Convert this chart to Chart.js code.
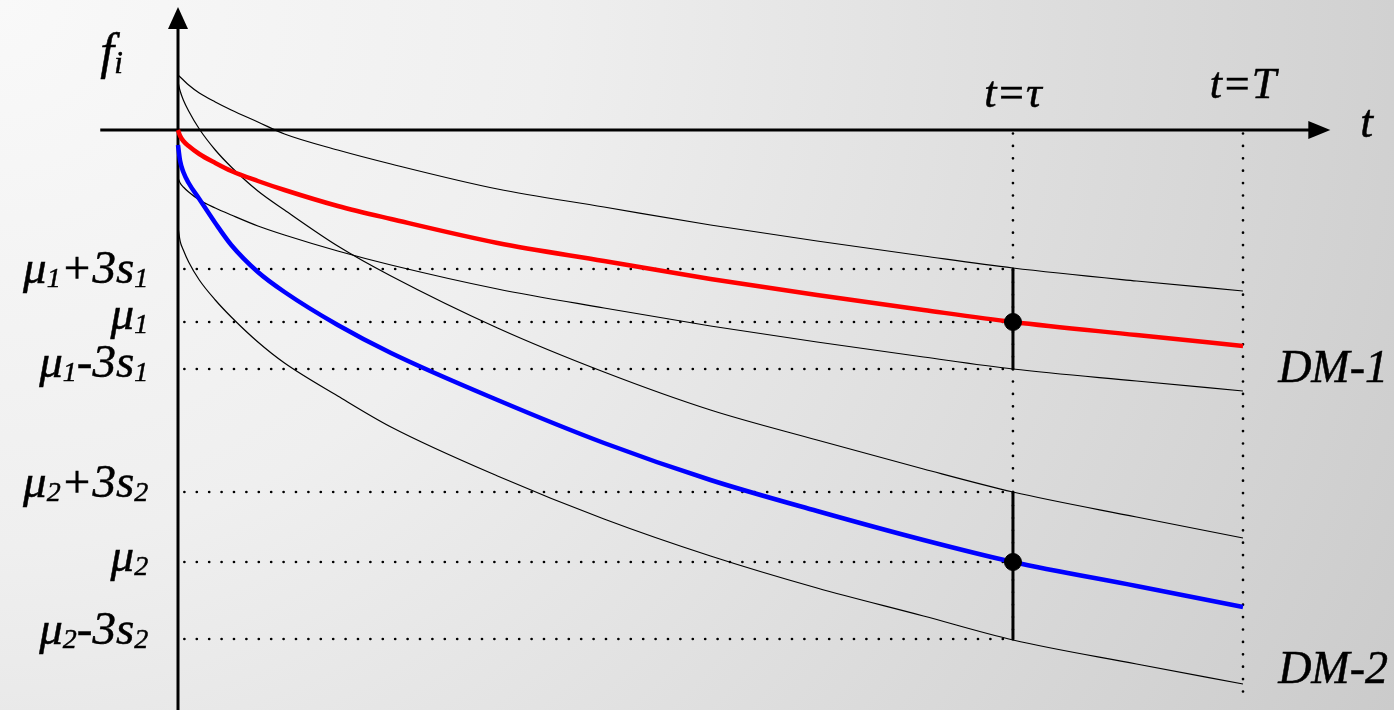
<!DOCTYPE html>
<html><head><meta charset="utf-8">
<script src="https://cdn.jsdelivr.net/npm/chart.js@4"></script>
<style>html,body{margin:0;padding:0;overflow:hidden;background:#fff}canvas{display:block}</style>
</head><body><canvas id="c" width="1394" height="710"></canvas>
<script>
// ---- data (t in units where T = 10, f in arbitrary units) ----
const tSamples = [0, 0.02, 0.05, 0.1, 0.2, 0.35, 0.5, 0.75, 1, 1.5, 2, 3, 4, 5, 6, 7, 7.84, 9, 10];
const dm1Mean  = [0, -0.6, -1.1, -1.6, -2.4, -3.3, -4.1, -5.1, -6.0, -7.6, -8.9, -11.3, -13.1, -14.9, -16.5, -18.0, -19.2, -20.5, -21.6];
const dm1Upper = [5.5, 5.3, 5.0, 4.5, 3.7, 2.8, 2.0, 0.8, -0.4, -2.0, -3.4, -5.9, -7.7, -9.5, -11.1, -12.6, -13.8, -15.1, -16.1];
const dm1Lower = [-4.8, -5.3, -5.7, -6.2, -7.0, -7.8, -8.5, -9.6, -10.5, -12.1, -13.5, -15.9, -17.8, -19.6, -21.2, -22.7, -23.9, -25.1, -26.1];
const dm2Mean  = [-1.5, -3.1, -4.2, -5.3, -6.9, -9.3, -11.5, -14.2, -16.2, -19.5, -22.3, -27.0, -31.3, -35.0, -38.1, -41.0, -43.2, -45.6, -47.7];
const dm2Upper = [4.8, 3.9, 3.0, 1.9, 0.1, -2.0, -3.7, -6.1, -8.0, -11.6, -14.6, -19.8, -24.2, -28.0, -31.0, -33.9, -36.2, -38.7, -40.8];
const dm2Lower = [-9.7, -11.1, -12.0, -13.2, -15.0, -17.0, -18.7, -21.2, -23.3, -26.6, -29.7, -34.6, -38.9, -42.6, -45.8, -48.6, -51.0, -53.4, -55.4];
const tau = 7.84, T = 10;
const levelValues = [-13.9, -19.2, -23.9, -36.2, -43.2, -50.9];
const levelLabels = ['μ_1+3s_1', 'μ_1', 'μ_1-3s_1', 'μ_2+3s_2', 'μ_2', 'μ_2-3s_2'];
const meanAtTau = [-19.2, -43.2];
const barRanges = [[-13.9, -23.9], [-36.2, -50.9]];
const seriesLabels = ['DM-1', 'DM-2'];
const axisLabels = {y: 'f_i', x: 't', tau: 't=τ', T: 't=T'};

const X_MIN = -1.6714, X_MAX = 11.4178, Y_MIN = -58, Y_MAX = 13;
const FONT = '"Liberation Serif", "Times New Roman", serif';

function pts(ys){ return tSamples.map((t,i)=>({x:t, y:ys[i]})); }
function curve(ys, color, w, order){
  return {data: pts(ys), borderColor: color, borderWidth: w, showLine: true, pointRadius: 0,
          cubicInterpolationMode: 'monotone', fill: false, order: order};
}
function seg(a, b, color, w, dash, order){
  return {data: [a, b], borderColor: color, borderWidth: w, showLine: true, pointRadius: 0,
          borderDash: dash || [], borderCapStyle: dash ? 'round' : 'butt', fill: false, order: order, tension: 0};
}
const DOT = [0, 12.4];
const datasets = [];
levelValues.forEach(v => datasets.push(seg({x:0.06, y:v}, {x:tau, y:v}, '#000', 2.7, DOT, 20)));
datasets.push(seg({x:tau, y:-0.35}, {x:tau, y:-51}, '#000', 2.7, DOT, 20));
datasets.push(seg({x:T, y:-0.35}, {x:T, y:-56.8}, '#000', 2.7, DOT, 20));
datasets.push(seg({x:-0.73, y:0}, {x:10.65, y:0}, '#000', 3, null, 15));
datasets.push(seg({x:0, y:Y_MIN}, {x:0, y:10.4}, '#000', 3, null, 15));
datasets.push(curve(dm1Upper, '#000', 1.2, 10));
datasets.push(curve(dm1Lower, '#000', 1.2, 10));
datasets.push(curve(dm2Upper, '#000', 1.2, 10));
datasets.push(curve(dm2Lower, '#000', 1.2, 10));
barRanges.forEach(r => datasets.push(seg({x:tau, y:r[0]}, {x:tau, y:r[1]}, '#000', 3, null, 8)));
datasets.push(curve(dm1Mean, '#ff0000', 4.5, 5));
datasets.push(curve(dm2Mean, '#0000ff', 4.5, 5));
datasets.push({data: meanAtTau.map(v=>({x:tau, y:v})), pointRadius: 8.5, pointBackgroundColor:'#000',
               pointBorderColor:'#000', showLine:false, order: 1});

function drawRich(ctx, str, x, y, align, size, subRatio, subDrop){
  const parts = [];
  for (let i=0;i<str.length;i++){
    if (str[i]==='_' && i+1<str.length){ parts.push({s:str[i+1], sub:true}); i++; }
    else parts.push({s:str[i], sub:false});
  }
  const subSize = Math.round(size*(subRatio || 0.6));
  const fMain = 'italic ' + size + 'px ' + FONT;
  const fSub = 'italic ' + subSize + 'px ' + FONT;
  let w = 0;
  parts.forEach(p => { ctx.font = p.sub ? fSub : fMain; p.w = ctx.measureText(p.s).width; w += p.w; });
  let cx = align==='right' ? x - w : align==='center' ? x - w/2 : x;
  ctx.textAlign = 'left'; ctx.textBaseline = 'alphabetic'; ctx.fillStyle = '#000';
  ctx.strokeStyle = '#000'; ctx.lineWidth = 0.5;
  parts.forEach(p => {
    ctx.font = p.sub ? fSub : fMain;
    const yy = y + (p.sub ? (subDrop || 4) : 0);
    ctx.fillText(p.s, cx, yy); ctx.strokeText(p.s, cx, yy);
    cx += p.w;
  });
}

const labelNudge = [14, 7, 8, 5, 9, 5];
const deco = {
  id: 'deco',
  beforeDraw(chart){
    const ctx = chart.ctx, W = chart.width, H = chart.height;
    const g = ctx.createRadialGradient(0, 0, 0, 0, 0, Math.hypot(W, H));
    g.addColorStop(0, '#f9f9f9');
    g.addColorStop(0.35, '#efefef');
    g.addColorStop(1, '#cbcbcb');
    ctx.save(); ctx.fillStyle = g; ctx.fillRect(0, 0, W, H); ctx.restore();
  },
  afterDraw(chart){
    const ctx = chart.ctx, xs = chart.scales.x, ys = chart.scales.y;
    const px = v => xs.getPixelForValue(v), py = v => ys.getPixelForValue(v);
    ctx.save();
    ctx.fillStyle = '#000';
    const x0 = px(0), y0 = py(0);
    const tipX = px(10.82);
    ctx.beginPath(); ctx.moveTo(tipX, y0); ctx.lineTo(tipX - 22, y0 - 9); ctx.lineTo(tipX - 22, y0 + 9); ctx.closePath(); ctx.fill();
    const tipY = py(12.3);
    ctx.beginPath(); ctx.moveTo(x0, tipY); ctx.lineTo(x0 - 10, tipY + 22); ctx.lineTo(x0 + 10, tipY + 22); ctx.closePath(); ctx.fill();
    drawRich(ctx, axisLabels.y, px(-0.73), py(6.2), 'left', 50, 0.62, 5);
    drawRich(ctx, axisLabels.x, px(11.1), py(-0.7), 'left', 46);
    drawRich(ctx, axisLabels.tau, px(tau), py(2.3), 'center', 44);
    drawRich(ctx, axisLabels.T, px(T), py(3.2), 'center', 44);
    levelValues.forEach((v, i) => drawRich(ctx, levelLabels[i], px(-0.28), py(v) + labelNudge[i], 'right', 47, 0.6, 4));
    drawRich(ctx, seriesLabels[0], px(10.33), py(-25.2), 'left', 46);
    drawRich(ctx, seriesLabels[1], px(10.33), py(-55.3), 'left', 46);
    ctx.restore();
  }
};

function build(){
  new Chart(document.getElementById('c'), {
    type: 'scatter',
    data: {datasets},
    options: {
      responsive: false, animation: false, devicePixelRatio: 1,
      layout: {padding: 0, autoPadding: false},
      scales: {
        x: {type:'linear', min: X_MIN, max: X_MAX, display: false},
        y: {type:'linear', min: Y_MIN, max: Y_MAX, display: false}
      },
      plugins: {legend:{display:false}, tooltip:{enabled:false}, title:{display:false}},
      elements: {line: {borderJoinStyle: 'round'}}
    },
    plugins: [deco]
  });
}
Promise.all([
  document.fonts.load('italic 46px "Liberation Serif"'),
  document.fonts.load('italic 30px "Liberation Serif"')
]).then(build, build);
</script></body></html>
